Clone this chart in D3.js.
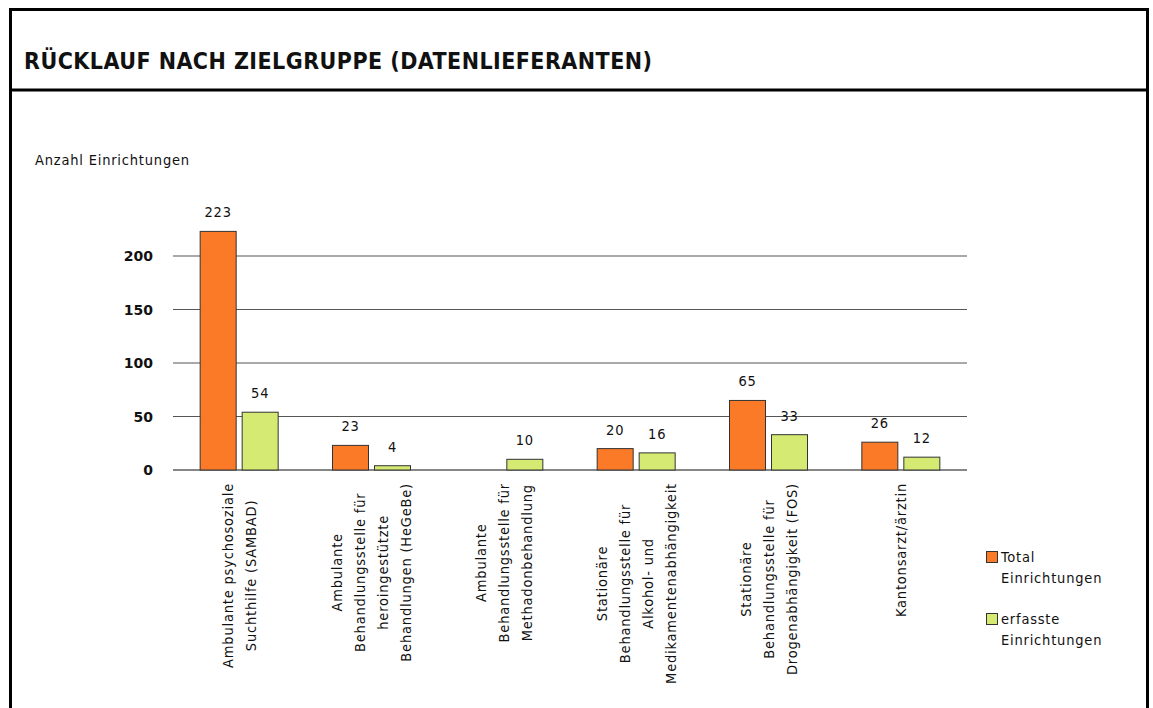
<!DOCTYPE html>
<html>
<head>
<meta charset="utf-8">
<script src="https://cdn.jsdelivr.net/npm/d3@7"></script>
<style>
  body { margin: 0; background: #fff; }
  svg { display: block; }
  text { font-family: "DejaVu Sans Condensed", "DejaVu Sans", sans-serif; fill: #111; letter-spacing: 0.8px; }
</style>
</head>
<body>
<svg id="chart" width="1153" height="708"></svg>
<script>
// categories, one entry per group, split into the lines shown under the axis
var categories = [
    ["Ambulante psychosoziale", "Suchthilfe (SAMBAD)"],
    ["Ambulante", "Behandlungsstelle für", "heroingestützte", "Behandlungen (HeGeBe)"],
    ["Ambulante", "Behandlungsstelle für", "Methadonbehandlung"],
    ["Stationäre", "Behandlungsstelle für", "Alkohol- und", "Medikamentenabhängigkeit"],
    ["Stationäre", "Behandlungsstelle für", "Drogenabhängigkeit (FOS)"],
    ["Kantonsarzt/ärztin"]
];
var seriesNames = ["Total Einrichtungen", "erfasste Einrichtungen"];
var seriesLabels = [["Total", "Einrichtungen"], ["erfasste", "Einrichtungen"]];
var totalValues = [223, 23, null, 20, 65, 26];
var erfassteValues = [54, 4, 10, 16, 33, 12];
var yTicks = [0, 50, 100, 150, 200];
var colors = ["#fb7a27", "#d4ea72"];

var svg = d3.select("#chart");

// frame + title box
svg.append("path")
    .attr("d", "M10.5,720 V9.5 H1147.5 V720")
    .attr("fill", "none").attr("stroke", "#000").attr("stroke-width", 3);
svg.append("line")
    .attr("x1", 10).attr("x2", 1148).attr("y1", 90).attr("y2", 90)
    .attr("stroke", "#000").attr("stroke-width", 3);
svg.append("text")
    .attr("x", 24).attr("y", 69)
    .style("font-size", "23px").style("font-weight", "bold")
    .style("letter-spacing", "0.45px")
    .text("RÜCKLAUF NACH ZIELGRUPPE (DATENLIEFERANTEN)");

svg.append("text")
    .attr("x", 35).attr("y", 165)
    .style("font-size", "14.5px")
    .text("Anzahl Einrichtungen");

var x0 = d3.scaleBand().domain(d3.range(categories.length)).range([173, 967]);
var bw = x0.bandwidth();
var x1 = d3.scaleBand().domain([0, 1])
    .range([(bw - 78) / 2, (bw + 78) / 2])
    .paddingInner(6 / 42);
var y = d3.scaleLinear().domain([0, 200]).range([470, 256]);

// gridlines and y ticks
var yAxis = svg.append("g");
yAxis.selectAll("line").data(yTicks).enter().append("line")
    .attr("x1", 173).attr("x2", 967)
    .attr("y1", function (d) { return y(d); })
    .attr("y2", function (d) { return y(d); })
    .attr("stroke", function (d) { return d === 0 ? "#111" : "#555"; })
    .attr("stroke-width", 1.2);
yAxis.selectAll("text").data(yTicks).enter().append("text")
    .attr("x", 153)
    .attr("y", function (d) { return y(d) + 5; })
    .attr("text-anchor", "end")
    .style("font-family", "'DejaVu Sans', sans-serif")
    .style("letter-spacing", "0px")
    .style("font-size", "14px").style("font-weight", "bold")
    .text(function (d) { return d; });

// bars
var rows = categories.map(function (c, i) {
    return [totalValues[i], erfassteValues[i]];
});
var groups = svg.append("g").selectAll("g").data(rows).enter().append("g")
    .attr("transform", function (d, i) { return "translate(" + x0(i) + ",0)"; });

groups.each(function (vals) {
    var g = d3.select(this);
    vals.forEach(function (v, s) {
        if (v == null) return;
        g.append("rect")
            .attr("x", x1(s))
            .attr("y", y(v))
            .attr("width", x1.bandwidth())
            .attr("height", y(0) - y(v))
            .attr("fill", colors[s])
            .attr("stroke", "#333").attr("stroke-width", 1);
        g.append("text")
            .attr("x", x1(s) + x1.bandwidth() / 2)
            .attr("y", y(v) - 14)
            .attr("text-anchor", "middle")
            .style("font-size", "14.5px")
            .text(v);
    });
});

// rotated category labels
categories.forEach(function (lines, i) {
    var cx = x0(i) + bw / 2;
    var g = svg.append("g")
        .attr("transform", "translate(" + cx + ",483) rotate(-90)");
    var texts = g.selectAll("text").data(lines).enter().append("text")
        .attr("text-anchor", "middle")
        .attr("y", function (d, k) { return (k - (lines.length - 1) / 2) * 23 + 5; })
        .style("font-size", "14.5px")
        .text(function (d) { return d; });
    var maxW = 0;
    texts.each(function () { maxW = Math.max(maxW, this.getComputedTextLength()); });
    texts.attr("x", -maxW / 2);
});

// legend
var legend = svg.append("g");
seriesNames.forEach(function (name, s) {
    var ly = 551 + s * 62;
    legend.append("rect")
        .attr("x", 986.5).attr("y", ly + 0.5)
        .attr("width", 11).attr("height", 11)
        .attr("fill", colors[s]).attr("stroke", "#333");
    seriesLabels[s].forEach(function (t, k) {
        legend.append("text")
            .attr("x", 1001).attr("y", ly + 11 + k * 21)
            .style("font-size", "14.5px")
            .text(t);
    });
});
</script>
</body>
</html>
